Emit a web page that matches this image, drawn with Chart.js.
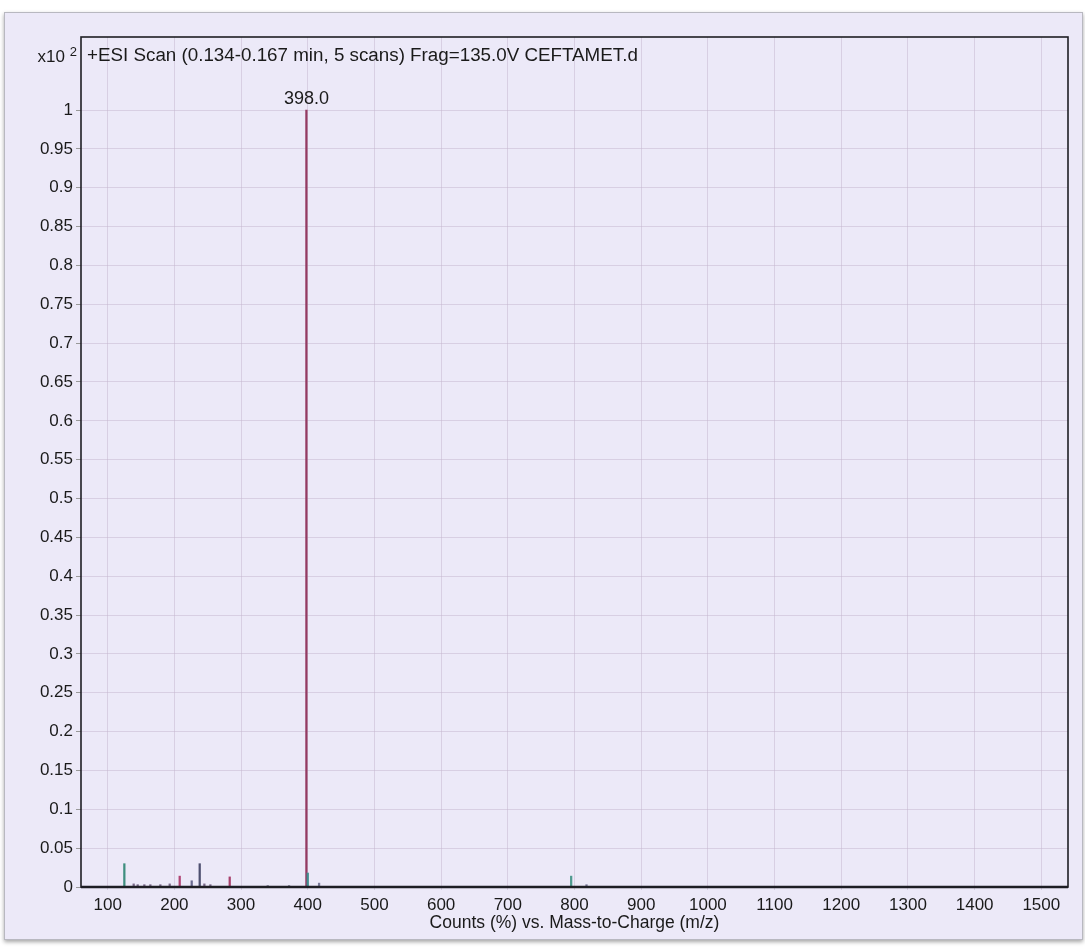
<!DOCTYPE html>
<html>
<head>
<meta charset="utf-8">
<script src="https://cdn.jsdelivr.net/npm/chart.js@4.4.1/dist/chart.umd.min.js"></script>
<style>
  body { margin: 0; background: #fff; width: 1085px; height: 950px; position: relative; overflow: hidden; }
  #paper { position: absolute; left: 4px; top: 12px; width: 1077px; height: 926px;
           background: #ece9f8; border: 1px solid #b8b8c0; box-shadow: 0 2px 4px rgba(0,0,0,0.35); }
  #wrap { position: absolute; left: 0; top: 0; width: 1085px; height: 950px; }
</style>
</head>
<body>
<div id="paper"></div>
<div id="wrap"><canvas id="spec"></canvas></div>
<script>
// peaks (m/z, relative counts x10^2)
var peakMz  = [125, 139, 145, 155, 164, 179, 193, 208, 226, 238, 245, 254, 283, 340, 372, 398, 400, 417, 795, 818];
var peakInt = [0.030, 0.004, 0.003, 0.003, 0.003, 0.003, 0.004, 0.014, 0.008, 0.030, 0.004, 0.003, 0.013, 0.002, 0.002, 1.0, 0.018, 0.005, 0.014, 0.003];
var peakCol = ["#3f8f7f", "#7a6a8a", "#7a6a8a", "#7a6a8a", "#7a6a8a", "#7a6a8a", "#7a6a8a", "#b04474", "#6a6a90", "#4e5070",
               "#7a6a8a", "#7a6a8a", "#a8406c", "#8a8aa0", "#8a8aa0", "#943a62", "#3f8f8f", "#7a7a9a", "#4f9a8f", "#7a7a9a"];
var xTicks = [100, 200, 300, 400, 500, 600, 700, 800, 900, 1000, 1100, 1200, 1300, 1400, 1500];
var yTicks = [0, 0.05, 0.1, 0.15, 0.2, 0.25, 0.3, 0.35, 0.4, 0.45, 0.5, 0.55, 0.6, 0.65, 0.7, 0.75, 0.8, 0.85, 0.9, 0.95, 1];
var scanTitle = "+ESI Scan (0.134-0.167 min, 5 scans) Frag=135.0V CEFTAMET.d";
var xTitle = "Counts (%) vs. Mass-to-Charge (m/z)";

var fontFam = "'Liberation Sans', Arial, Helvetica, sans-serif";

var pts = [];
for (var i = 0; i < peakMz.length; i++) pts.push({x: peakMz[i], y: peakInt[i]});

var frame = {
  id: 'frame',
  afterDraw: function(chart) {
    var c = chart.ctx, a = chart.chartArea;
    c.save();
    c.strokeStyle = "#1e1e24";
    c.lineWidth = 1.6;
    c.strokeRect(a.left, a.top, a.right - a.left, a.bottom - a.top);
    c.lineWidth = 2.6;
    c.beginPath(); c.moveTo(a.left, a.bottom); c.lineTo(a.right, a.bottom); c.stroke();
    // scan title + exponent
    c.fillStyle = "#1a1a1a";
    c.textBaseline = "middle";
    c.font = "18.8px " + fontFam;
    c.textAlign = "left";
    c.fillText(scanTitle, a.left + 6, a.top + 19);
    c.textAlign = "right";
    c.font = "17px " + fontFam;
    c.fillText("x10", a.left - 16, a.top + 20);
    c.font = "13px " + fontFam;
    c.fillText("2", a.left - 4, a.top + 15);
    // label of base peak
    var k = peakInt.indexOf(Math.max.apply(null, peakInt));
    var px = chart.scales.x.getPixelForValue(peakMz[k]);
    var py = chart.scales.y.getPixelForValue(peakInt[k]);
    c.font = "18px " + fontFam;
    c.textAlign = "center";
    c.fillText(peakMz[k].toFixed(1), px, py - 11);
    c.restore();
  }
};

new Chart(document.getElementById("spec"), {
  type: 'bar',
  data: {
    datasets: [{
      data: pts,
      backgroundColor: peakCol,
      borderWidth: 0,
      barThickness: 1.6
    }]
  },
  options: {
    responsive: true,
    maintainAspectRatio: false,
    animation: false,
    layout: { padding: { left: 0, top: 37, right: 17, bottom: 18 } },
    plugins: { legend: { display: false }, tooltip: { enabled: false } },
    scales: {
      x: {
        type: 'linear',
        offset: false,
        min: 60, max: 1540,
        afterBuildTicks: function(s) { s.ticks = xTicks.map(function(v) { return {value: v}; }); },
        afterFit: function(s) { s.height = 45; },
        grid: { color: "rgba(195,182,205,0.5)", tickLength: 3, offset: false },
        border: { display: false },
        ticks: {
          color: "#1a1a1a", font: { family: fontFam, size: 17 }, padding: 5, maxRotation: 0, autoSkip: false,
          callback: function(v) { return String(v); }
        },
        title: { display: true, text: xTitle, color: "#1a1a1a", font: { family: fontFam, size: 17.5, lineHeight: 1 }, padding: { top: -9, bottom: 0 } }
      },
      y: {
        min: 0, max: 1.094,
        afterBuildTicks: function(s) { s.ticks = yTicks.map(function(v) { return {value: v}; }); },
        afterFit: function(s) { s.width = 81; },
        grid: { color: "rgba(195,182,205,0.5)", tickLength: 5, tickColor: "#999" },
        border: { display: false },
        ticks: {
          color: "#1a1a1a", font: { family: fontFam, size: 17 }, padding: 3, autoSkip: false,
          callback: function(v) { return String(+v.toFixed(2)); }
        }
      }
    }
  },
  plugins: [frame]
});
</script>
</body>
</html>
